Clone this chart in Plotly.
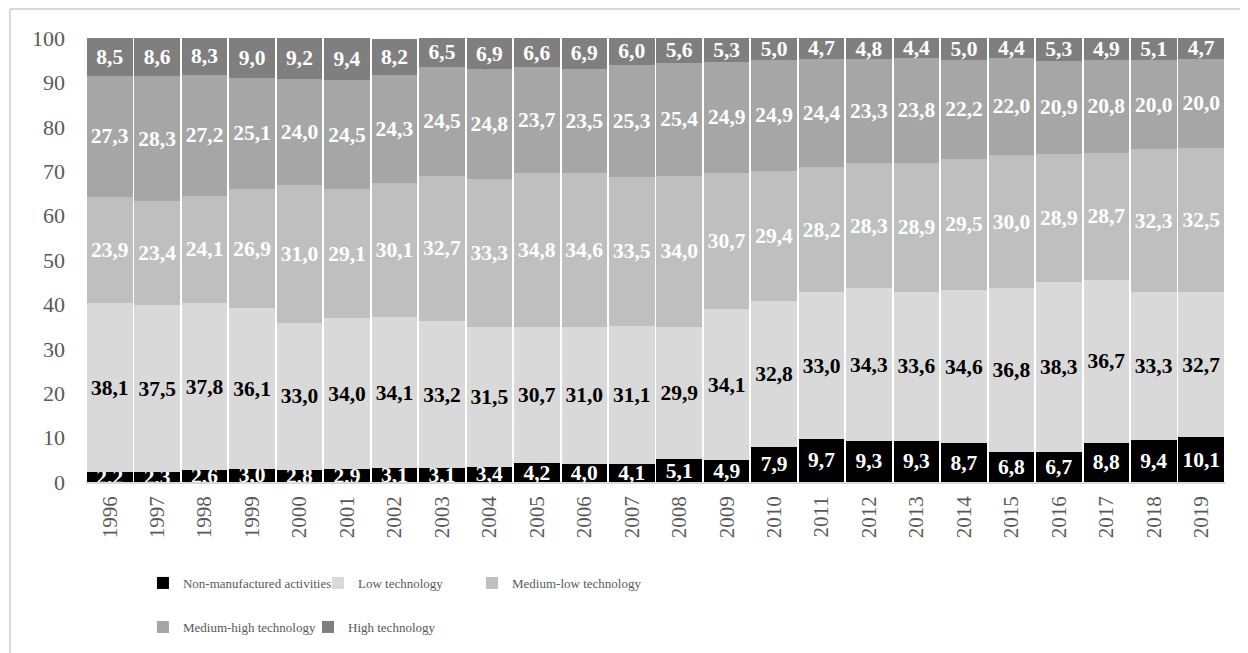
import plotly.graph_objects as go

years = [str(y) for y in range(1996, 2020)]
non_manufactured = [2.2, 2.3, 2.6, 3.0, 2.8, 2.9, 3.1, 3.1, 3.4, 4.2, 4.0, 4.1, 5.1, 4.9, 7.9, 9.7, 9.3, 9.3, 8.7, 6.8, 6.7, 8.8, 9.4, 10.1]
low_tech = [38.1, 37.5, 37.8, 36.1, 33.0, 34.0, 34.1, 33.2, 31.5, 30.7, 31.0, 31.1, 29.9, 34.1, 32.8, 33.0, 34.3, 33.6, 34.6, 36.8, 38.3, 36.7, 33.3, 32.7]
medium_low = [23.9, 23.4, 24.1, 26.9, 31.0, 29.1, 30.1, 32.7, 33.3, 34.8, 34.6, 33.5, 34.0, 30.7, 29.4, 28.2, 28.3, 28.9, 29.5, 30.0, 28.9, 28.7, 32.3, 32.5]
medium_high = [27.3, 28.3, 27.2, 25.1, 24.0, 24.5, 24.3, 24.5, 24.8, 23.7, 23.5, 25.3, 25.4, 24.9, 24.9, 24.4, 23.3, 23.8, 22.2, 22.0, 20.9, 20.8, 20.0, 20.0]
high_tech = [8.5, 8.6, 8.3, 9.0, 9.2, 9.4, 8.2, 6.5, 6.9, 6.6, 6.9, 6.0, 5.6, 5.3, 5.0, 4.7, 4.8, 4.4, 5.0, 4.4, 5.3, 4.9, 5.1, 4.7]
y_ticks = [0, 10, 20, 30, 40, 50, 60, 70, 80, 90, 100]

# name, values, bar colour, label colour, legend id, legend x, legend y
series = [
    ("Non-manufactured activities", non_manufactured, "#000000", "#ffffff", "legend", 0.050, -0.2247),
    ("Low technology", low_tech, "#d9d9d9", "#000000", "legend2", 0.2037, -0.2247),
    ("Medium-low technology", medium_low, "#bfbfbf", "#ffffff", "legend3", 0.3389, -0.2247),
    ("Medium-high technology", medium_high, "#a6a6a6", "#ffffff", "legend4", 0.050, -0.3236),
    ("High technology", high_tech, "#7f7f7f", "#ffffff", "legend5", 0.1949, -0.3236),
]

fig = go.Figure()
legends = {}
for name, vals, color, tcolor, leg, lx, ly in series:
    fig.add_trace(go.Bar(
        x=years, y=vals, name=name,
        marker=dict(color=color, line=dict(width=0)),
        text=[f"{v:.1f}".replace(".", ",") for v in vals],
        textposition="inside", insidetextanchor="middle", textangle=0,
        constraintext="none",
        textfont=dict(family="Liberation Serif", size=21.5, color=tcolor, weight="bold"),
        legend=leg, hoverinfo="skip",
    ))
    legends[leg] = dict(orientation="h", x=lx, xanchor="left", y=ly, yanchor="middle",
                        itemwidth=30, font=dict(family="Liberation Serif", size=13, color="#595959"),
                        bgcolor="rgba(0,0,0,0)", traceorder="normal")

fig.update_layout(
    width=1240, height=645,
    barmode="stack", bargap=0.04,
    paper_bgcolor="white", plot_bgcolor="white",
    margin=dict(l=78, r=23, t=30, b=170),
    font=dict(family="Liberation Serif", color="#595959"),
    uniformtext=dict(minsize=21.5, mode="show"),
    xaxis=dict(tickangle=-90, tickfont=dict(size=21, color="#595959"),
               showline=True, linecolor="#d9d9d9", linewidth=1.5, ticks="",
               showgrid=False, ticklabelstandoff=4),
    yaxis=dict(range=[0, 100], tickvals=y_ticks, tickfont=dict(size=22, color="#595959"),
               showgrid=False, showline=False, ticks="", ticklabelstandoff=20),
    showlegend=True,
    shapes=[
        dict(type="line", xref="paper", yref="paper", x0=-0.0667, x1=1.03, y0=1.0652, y1=1.0652,
             line=dict(color="#d9d9d9", width=2)),
        dict(type="line", xref="paper", yref="paper", x0=-0.0667, x1=-0.0667, y0=1.0652, y1=-0.4,
             line=dict(color="#d9d9d9", width=2)),
    ],
    **legends,
)

fig.write_html("out.html")
